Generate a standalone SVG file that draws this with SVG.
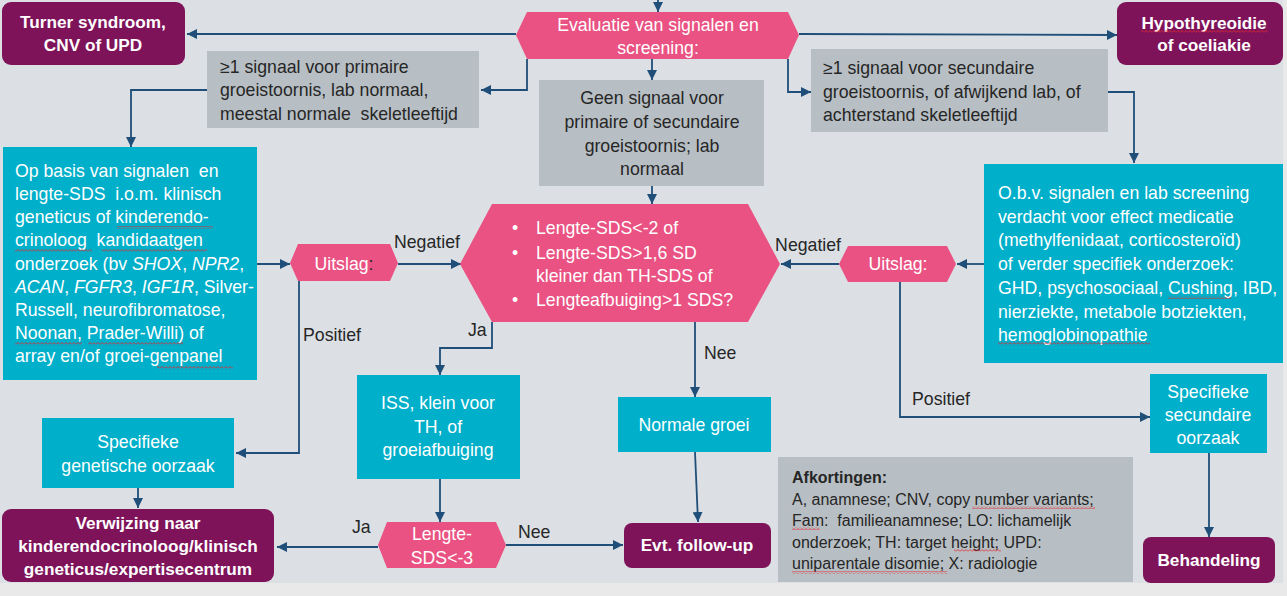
<svg xmlns="http://www.w3.org/2000/svg" width="1287" height="596" viewBox="0 0 1287 596" xml:space="preserve">
<style>
text{font-family:"Liberation Sans",Arial,sans-serif;font-size:17.7px;fill:#262626;white-space:pre}
.w{fill:#ffffff}
.b{font-weight:bold;font-size:17.2px}
.c{text-anchor:middle}
.i{font-style:italic}
.sm{font-size:16px}
.purple{fill:#7e1359}
.pink{fill:#e95282}
.cyan{fill:#00afca}
.gray{fill:#b8bfc4}
.sq{fill:url(#squig)}
#connectors path{stroke:#1f4e79;stroke-width:1.8;fill:none;marker-end:url(#ah)}
</style>
<defs>
<marker id="ah" markerUnits="userSpaceOnUse" markerWidth="11" markerHeight="10" refX="10" refY="5" orient="auto">
<path d="M0,0 L10,5 L0,10 z" fill="#1f4e79"/>
</marker>
<pattern id="squig" patternUnits="userSpaceOnUse" width="4" height="3">
<path d="M0,2.5 L2,0.5 L4,2.5" stroke="#e0292f" stroke-width="0.9" fill="none"/>
</pattern>
</defs>
<rect x="0" y="0" width="1287" height="596" fill="#e9e9e9"/>
<rect x="0" y="0" width="1283" height="583" fill="#dce0e4"/>

<g id="connectors">
<path d="M658,0 V12"/>
<path d="M516,34 H187"/>
<path d="M799,34 L1117,35"/>
<path d="M527,59 V90 H481"/>
<path d="M652,59 V80"/>
<path d="M788,59 V92 H811"/>
<path d="M207,90 H131 V147"/>
<path d="M1108,92 H1134 V163"/>
<path d="M652,186 V204"/>
<path d="M257,264 H290"/>
<path d="M398,264 H461"/>
<path d="M984,264 H957"/>
<path d="M839,264 H781"/>
<path d="M299,281 V453 H236"/>
<path d="M492,322 V348 H440 V375"/>
<path d="M695,322 V397"/>
<path d="M900,282 V417 H1150"/>
<path d="M138,488 V508"/>
<path d="M440,478 V522"/>
<path d="M378,547 H277"/>
<path d="M506,545 H623"/>
<path d="M695,452 L698,522"/>
<path d="M1209,453 V537"/>
<text x="394" y="248">Negatief</text>
<text x="841" y="251" text-anchor="end">Negatief</text>
<text x="303" y="341">Positief</text>
<text x="912" y="405">Positief</text>
<text x="468" y="336">Ja</text>
<text x="704" y="359">Nee</text>
<text x="352" y="533">Ja</text>
<text x="518" y="538">Nee</text>
</g>

<g id="turner">
<rect class="purple" x="2" y="2" width="183" height="63" rx="9"/>
<text class="w b c" x="93" y="28">Turner syndroom,</text>
<text class="w b c" x="93" y="51">CNV of UPD</text>
</g>

<g id="hypothyreoidie">
<rect class="purple" x="1117" y="2" width="166" height="63" rx="9"/>
<text class="w b c" x="1204" y="29">Hypothyreoidie</text>
<text class="w b c" x="1204" y="51">of coeliakie</text>
<rect class="sq" x="1141" y="30" width="127" height="3"/>
</g>

<g id="evaluatie">
<polygon class="pink" points="516,35 527,12 788,12 799,35 788,59 527,59"/>
<text class="w c" x="658" y="31">Evaluatie van signalen en</text>
<text class="w c" x="658" y="54">screening:</text>
</g>

<g id="primair">
<rect class="gray" x="207" y="51" width="272" height="77"/>
<text x="220" y="73">≥1 signaal voor primaire</text>
<text x="220" y="96">groeistoornis, lab normaal,</text>
<text x="220" y="120">meestal normale  skeletleeftijd</text>
</g>

<g id="geen-signaal">
<rect class="gray" x="539" y="80" width="225" height="106"/>
<text class="c" x="652" y="104">Geen signaal voor</text>
<text class="c" x="652" y="128">primaire of secundaire</text>
<text class="c" x="652" y="152">groeistoornis; lab</text>
<text class="c" x="652" y="175">normaal</text>
</g>

<g id="secundair">
<rect class="gray" x="811" y="49" width="297" height="83"/>
<text x="823" y="74">≥1 signaal voor secundaire</text>
<text x="823" y="98">groeistoornis, of afwijkend lab, of</text>
<text x="823" y="121">achterstand skeletleeftijd</text>
</g>

<g id="kandidaatgen">
<rect class="cyan" x="3" y="147" width="254" height="233"/>
<text class="w" x="15" y="177">Op basis van signalen  en</text>
<text class="w" x="15" y="200">lengte-SDS  i.o.m. klinisch</text>
<text class="w" x="15" y="223">geneticus of kinderendo-</text>
<text class="w" x="15" y="246">crinoloog  kandidaatgen</text>
<text class="w" x="15" y="270">onderzoek (bv <tspan class="i">SHOX</tspan>, <tspan class="i">NPR2</tspan>,</text>
<text class="w" x="15" y="293"><tspan class="i">ACAN</tspan>, <tspan class="i">FGFR3</tspan>, <tspan class="i">IGF1R</tspan>, Silver-</text>
<text class="w" x="15" y="316">Russell, neurofibromatose,</text>
<text class="w" x="15" y="339">Noonan, Prader-Willi) of</text>
<text class="w" x="15" y="362">array en/of groei-genpanel</text>
<rect class="sq" x="117" y="226" width="96" height="3"/>
<rect class="sq" x="15" y="249" width="77" height="3"/>
<rect class="sq" x="102" y="249" width="105" height="3"/>
<rect class="sq" x="15" y="342" width="67" height="3"/>
<rect class="sq" x="88" y="342" width="95" height="3"/>
<rect class="sq" x="157" y="366" width="76" height="3"/>
</g>

<g id="obv-signalen">
<rect class="cyan" x="984" y="164" width="299" height="199"/>
<text class="w" x="998" y="199">O.b.v. signalen en lab screening</text>
<text class="w" x="998" y="223">verdacht voor effect medicatie</text>
<text class="w" x="998" y="246">(methylfenidaat, corticosteroïd)</text>
<text class="w" x="998" y="270">of verder specifiek onderzoek:</text>
<text class="w" x="998" y="294">GHD, psychosociaal, Cushing, IBD,</text>
<text class="w" x="998" y="318">nierziekte, metabole botziekten,</text>
<text class="w" x="998" y="341">hemoglobinopathie</text>
<rect class="sq" x="1168" y="296" width="63" height="3"/>
<rect class="sq" x="998" y="342" width="152" height="3"/>
</g>

<g id="uitslag-links">
<polygon class="pink" points="290,263 298,244 390,244 398,263 390,281 298,281"/>
<text class="w c" x="344" y="270">Uitslag<tspan fill="#262626">:</tspan></text>
</g>

<g id="uitslag-rechts">
<polygon class="pink" points="839,264 848,246 947,246 956,264 947,282 848,282"/>
<text class="w c" x="898" y="270">Uitslag:</text>
</g>

<g id="lengte-criteria">
<polygon class="pink" points="460,264 492,204 748,204 780,264 748,322 492,322"/>
<text class="w" x="512" y="234">•</text>
<text class="w" x="536" y="234">Lengte-SDS&lt;-2 of</text>
<text class="w" x="512" y="259">•</text>
<text class="w" x="536" y="259">Lengte-SDS&gt;1,6 SD</text>
<text class="w" x="536" y="282">kleiner dan TH-SDS of</text>
<text class="w" x="512" y="306">•</text>
<text class="w" x="536" y="306">Lengteafbuiging&gt;1 SDS?</text>
</g>

<g id="iss">
<rect class="cyan" x="357" y="375" width="163" height="104"/>
<text class="w c" x="438" y="409">ISS, klein voor</text>
<text class="w c" x="438" y="433">TH, of</text>
<text class="w c" x="438" y="456">groeiafbuiging</text>
</g>

<g id="normale-groei">
<rect class="cyan" x="618" y="397" width="153" height="55"/>
<text class="w c" x="694" y="431">Normale groei</text>
</g>

<g id="genetische-oorzaak">
<rect class="cyan" x="42" y="418" width="192" height="70"/>
<text class="w c" x="138" y="448">Specifieke</text>
<text class="w c" x="138" y="472">genetische oorzaak</text>
</g>

<g id="secundaire-oorzaak">
<rect class="cyan" x="1150" y="374" width="117" height="79"/>
<text class="w c" x="1208" y="398">Specifieke</text>
<text class="w c" x="1208" y="421">secundaire</text>
<text class="w c" x="1208" y="444">oorzaak</text>
</g>

<g id="verwijzing">
<rect class="purple" x="2" y="509" width="272" height="73" rx="9"/>
<text class="w b c" x="138" y="529">Verwijzing naar</text>
<text class="w b c" x="138" y="552">kinderendocrinoloog/klinisch</text>
<text class="w b c" x="138" y="575">geneticus/expertisecentrum</text>
</g>

<g id="lengte-sds3">
<polygon class="pink" points="378,545 387,522 496,522 506,545 496,568 387,568"/>
<text class="w c" x="442" y="540">Lengte-</text>
<text class="w c" x="442" y="564">SDS&lt;-3</text>
</g>

<g id="follow-up">
<rect class="purple" x="624" y="523" width="147" height="45" rx="8"/>
<text class="w b c" x="697" y="551">Evt. follow-up</text>
</g>

<g id="behandeling">
<rect class="purple" x="1143" y="537" width="132" height="46" rx="8"/>
<text class="w b c" x="1209" y="566">Behandeling</text>
</g>

<g id="afkortingen">
<rect class="gray" x="778" y="457" width="355" height="125"/>
<text class="sm" x="792" y="483" font-weight="bold">Afkortingen:</text>
<text class="sm" x="792" y="505">A, anamnese; CNV, copy number variants;</text>
<text class="sm" x="792" y="526">Fam:  familieanamnese; LO: lichamelijk</text>
<text class="sm" x="792" y="548">onderzoek; TH: target height; UPD:</text>
<text class="sm" x="792" y="569">uniparentale disomie; X: radiologie</text>
<rect class="sq" x="972" y="506" width="123" height="3"/>
<rect class="sq" x="792" y="527" width="28" height="3"/>
<rect class="sq" x="954" y="549" width="47" height="3"/>
<rect class="sq" x="792" y="571" width="155" height="3"/>
</g>
</svg>
